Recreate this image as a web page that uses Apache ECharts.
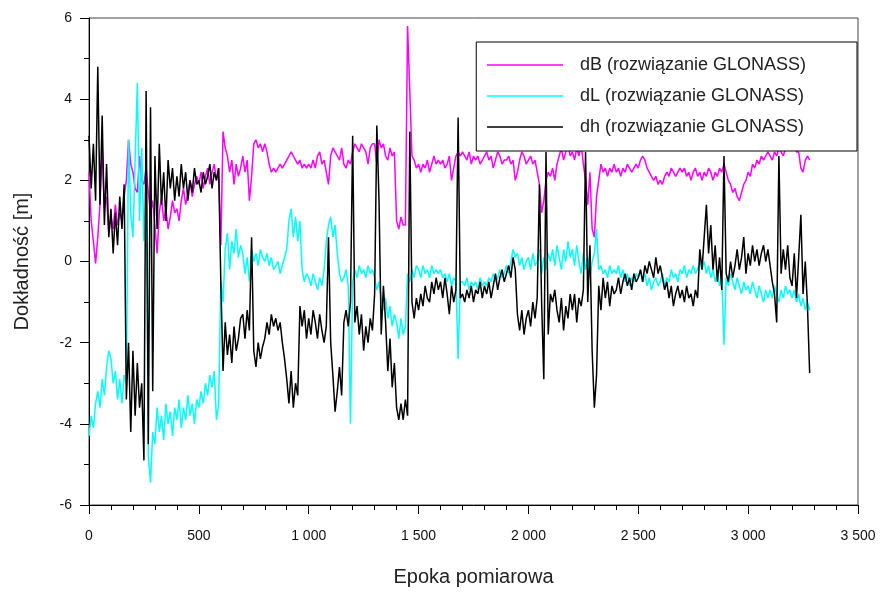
<!DOCTYPE html>
<html>
<head>
<meta charset="utf-8">
<title>Dokładność GLONASS</title>
<script src="https://cdn.jsdelivr.net/npm/echarts@6/dist/echarts.min.js"></script>
<style>
  html, body { margin: 0; padding: 0; background: #fff; }
  #main { width: 887px; height: 592px; }
</style>
</head>
<body>
<div id="main"></div>
<script>
// epoch spacing of the read-off samples
const STEP = 10

// dB (rozwiązanie GLONASS), one row = 100 epochs
const dB = [
  2.2, 1.0, 0.5, -0.05, 0.6, 1.4, 2.8, 1.3, 1.6, 0.7,
  1.1, 0.8, 1.4, 0.9, 1.2, 1.0, 1.6, 2.0, 3.0, 2.4,
  2.2, 1.8, 1.7, 2.6, 2.0, 1.9, 2.3, 1.7, 1.2, 1.5,
  0.9, 0.2, 1.2, 1.6, 1.0, 1.3, 0.8, 1.1, 1.5, 1.2,
  1.3, 1.0, 1.5, 1.8, 1.4, 1.7, 2.0, 1.6, 1.9, 2.1,
  1.9, 2.2, 1.8, 2.1, 2.3, 1.9, 2.2, 2.4, 2.0, 2.3,
  0.4, 3.2, 2.8, 2.6, 2.2, 2.5, 1.9, 2.4, 2.1, 2.3,
  2.6, 2.2, 2.5, 1.5, 2.1, 2.9, 3.0, 2.8, 2.9, 2.7,
  2.9, 2.7, 2.4, 2.2, 2.3, 2.2, 2.3, 2.4, 2.3, 2.4,
  2.5, 2.6, 2.7, 2.6, 2.5, 2.4, 2.5, 2.3, 2.4, 2.3,
  2.4, 2.3, 2.5, 2.3, 2.6, 2.7, 2.4, 2.5, 2.2, 1.9,
  2.6, 2.8, 2.7, 2.6, 2.5, 2.8, 2.4, 2.3, 2.5, 2.4,
  2.7, 2.9, 2.8, 2.7, 2.9, 2.8, 2.7, 2.4, 2.8, 2.9,
  2.9, 2.4, 3.0, 2.8, 2.9, 2.6, 2.5, 2.8, 2.6, 2.7,
  1.0, 0.8, 1.1, 0.9, 0.9, 5.8, 4.2, 2.6, 2.5, 2.3,
  2.4, 2.2, 2.4, 2.3, 2.5, 2.2, 2.4, 2.6, 2.4, 2.5,
  2.4, 2.5, 2.3, 2.4, 2.6, 2.0, 2.3, 2.6, 2.7, 2.6,
  2.7, 2.6, 2.5, 2.7, 2.4, 2.6, 2.5, 2.6, 2.4, 2.5,
  2.6, 2.7, 2.5, 2.6, 2.3, 2.5, 2.7, 2.6, 2.4, 2.5,
  2.5, 2.6, 2.4, 2.5, 2.0, 2.2, 2.5, 2.7, 2.6, 2.4,
  2.5, 2.6, 2.4, 2.5, 2.2, 1.9, 1.2, 1.5, 2.0, 2.2,
  2.1, 2.3, 2.0, 2.4, 2.6, 2.8, 2.5, 2.7, 2.9, 2.6,
  2.7, 2.5, 2.8, 2.6, 2.9, 2.4, 2.0, 1.4, 2.2, 0.8,
  0.6, 1.6, 2.0, 2.4, 2.2, 2.3, 2.1, 2.3, 2.2, 2.4,
  2.2, 2.3, 2.1, 2.3, 2.2, 2.4, 2.3, 2.2, 2.3, 2.4,
  2.3, 2.5, 2.6, 2.5, 2.3, 2.2, 2.1, 2.0, 2.1, 1.9,
  2.0, 1.9, 2.1, 2.2, 2.1, 2.3, 2.2, 2.1, 2.2, 2.3,
  2.2, 2.3, 2.1, 2.2, 2.0, 2.2, 2.3, 2.1, 2.2, 2.0,
  2.2, 2.1, 2.3, 2.2, 2.0, 2.2, 2.1, 2.3, 2.2, 2.4,
  2.2, 2.0, 1.9, 1.7, 1.8, 1.6, 1.5, 1.7, 1.9, 2.0,
  2.2, 2.1, 2.4, 2.3, 2.5, 2.4, 2.6, 2.5, 2.6, 2.7,
  2.6, 2.5, 2.7, 2.6, 2.8, 2.7, 2.6, 2.8, 2.9, 2.8,
  2.8, 2.9, 2.7, 2.7, 2.3, 2.2, 2.5, 2.6, 2.5
]

// dL (rozwiązanie GLONASS)
const dL = [
  -4.3, -3.8, -4.1, -3.5, -3.2, -3.6, -2.9, -3.3, -2.6, -2.2,
  -2.4, -3.0, -2.7, -3.4, -2.9, -3.5, -2.8, -3.0, 3.0, 1.2,
  0.6, 2.5, 4.4, 1.0, 2.8, 0.5, 2.0, -4.8, -5.45, -4.2,
  -4.5, -3.6, -4.2, -3.8, -4.4, -3.5, -4.0, -3.7, -4.3, -3.6,
  -3.9, -3.4, -4.1, -3.6, -3.9, -3.3, -3.8, -3.5, -4.0, -3.4,
  -3.6, -3.2, -3.5, -3.0, -3.3, -2.8, -3.1, -2.7, -3.9, -3.5,
  -0.5, -1.0, 0.3, 0.7, -0.2, 0.5, 0.2, 0.8, 0.1, 0.4,
  0.2, -0.3, 0.1, -0.5, 0.3, 0.0, 0.2, -0.1, 0.3, 0.1,
  0.0, 0.2, -0.1, 0.1, -0.2, -0.1, 0.0, -0.3, -0.1, 0.1,
  0.3, 1.0, 1.3, 0.6, 1.1, 0.5, 1.0, -0.2, -0.5, -0.3,
  -0.4, -0.6, -0.3, -0.5, -0.7, -0.4, -0.6, -0.2, 0.5, 0.9,
  1.1, 0.6, 0.9, 0.2, -0.3, -0.5, -0.4, -0.2, -0.6, -4.0,
  -0.5, -0.2, -0.4, -0.1, -0.3, -0.2, -0.4, -0.1, -0.3, -0.2,
  -0.4, -0.7, -0.5, -0.9, -1.2, -0.9, -1.4, -1.1, -1.6, -1.3,
  -1.5, -1.9, -1.4, -1.8, -1.6, -0.3, -0.5, -0.2, -0.4, -0.1,
  -0.2, -0.4, -0.1, -0.3, -0.2, -0.4, -0.1, -0.3, -0.2, -0.3,
  -0.2, -0.4, -0.3, -0.5, -0.3, -0.6, -0.4, -0.5, -2.4, -0.5,
  -0.5, -0.6, -0.4, -0.7, -0.5, -0.6, -0.5, -0.7, -0.4, -0.6,
  -0.5, -0.6, -0.4, -0.5, -0.3, -0.5, -0.4, -0.2, -0.4, -0.3,
  -0.1, -0.3, 0.0, 0.3, 0.1, 0.2, -0.1, 0.1, -0.2, 0.0,
  0.1, -0.2, 0.2, -0.1, 0.0, 0.3, -0.3, 0.1, -0.2, 0.2,
  0.0, 0.3, -0.1, 0.4, 0.1, -0.2, 0.3, 0.0, 0.5, 0.1,
  0.3, -0.1, 0.4, 0.0, -0.3, 0.2, -0.2, 0.1, -0.4, 0.0,
  0.2, 0.8, -0.2, -0.1, -0.3, -0.2, -0.4, -0.1, -0.3, -0.2,
  -0.3, -0.1, -0.4, -0.2, -0.5, -0.3, -0.6, -0.4, -0.5, -0.3,
  -0.4, -0.2, -0.5, -0.3, -0.6, -0.4, -0.7, -0.5, -0.4, -0.6,
  -0.5, -0.3, -0.6, -0.4, -0.5, -0.2, -0.4, -0.3, -0.5, -0.2,
  -0.3, -0.1, -0.4, -0.2, -0.3, -0.1, -0.3, -0.2, 0.0, -0.2,
  0.0, -0.3, -0.1, -0.4, -0.2, -0.5, -0.3, -0.6, -0.4, -2.05,
  -0.4, -0.6, -0.3, -0.5, -0.7, -0.4, -0.6, -0.8, -0.5, -0.7,
  -0.6, -0.8, -0.5, -0.7, -0.9, -0.6, -0.8, -1.0, -0.7, -0.9,
  -0.7, -0.9, -0.6, -0.8, -1.0, -0.7, -0.9, -0.6, -0.8, -0.7,
  -0.9, -0.7, -1.0, -0.8, -1.1, -0.9, -1.2, -1.0, -1.2
]

// dh (rozwiązanie GLONASS)
const dh = [
  3.1, 1.8, 2.9, 1.5, 4.8, 1.4, 3.6, 0.9, 2.4, 0.6,
  1.3, 0.2, 1.2, 0.4, 1.6, 0.8, 1.9, -3.4, -2.0, -4.2,
  -2.2, -3.8, -2.5, -3.6, -3.0, -4.9, 4.2, -4.5, 3.8, -3.2,
  2.6, 0.8, 2.9, 1.4, 2.2, 1.0, 2.5, 1.8, 2.3, 1.5,
  2.1, 1.6, 2.4, 1.8, 2.2, 1.5, 2.0, 1.7, 2.3, 1.9,
  2.0, 1.7, 2.2, 1.9, 2.1, 2.4, 1.8, 2.2, 2.0, 2.3,
  -0.5, -2.7, -1.5, -2.3, -1.8, -2.5, -1.6, -2.2, -1.9, -1.4,
  -1.3, -1.9, -1.2, -1.7, 0.6, -2.2, -2.6, -2.0, -2.4, -2.1,
  -1.9, -1.5, -1.8, -1.3, -1.6, -1.4, -1.7, -1.5, -2.0, -2.4,
  -2.9, -3.5, -2.7, -3.6, -3.0, -3.3, -1.1, -1.6, -1.2, -1.9,
  -1.4, -1.8, -1.2, -1.5, -1.9, -1.3, -1.7, -2.0, -1.6, 0.6,
  -2.0, -2.8, -3.7, -3.2, -2.6, -3.3, -1.5, -1.2, -1.6, -1.0,
  3.1, -1.5, -1.1, -1.8, -1.3, -2.2, -1.6, -2.0, -1.4, -1.7,
  -0.8, 3.35, 1.5, -1.8, -0.6, -1.5, -2.7, -1.9, -3.1, -2.5,
  -3.6, -3.9, -3.5, -3.9, -3.4, -3.8, 3.2, -1.0, -1.4, -0.9,
  -1.2, -0.8, -1.1, -0.6, -0.9, -1.0, -0.5, -0.8, -0.4, -0.7,
  -0.5, -0.9, -0.4, -0.8, -1.3, -0.6, -1.0, -0.7, 3.55, -0.9,
  -0.8, -1.0, -0.7, -0.9, -0.6, -1.0, -0.7, -0.8, -0.5, -0.9,
  -0.6, -0.8, -0.5, -0.9, -0.6, -0.3, -0.7, -0.4, -0.2, -0.5,
  -0.3, -0.1, -0.4, 0.1, -0.2, -1.3, -1.7, -1.2, -1.8, -1.4,
  -1.2, -1.6, -1.0, -1.4, -0.9, 1.9, -1.0, -2.9, 2.7, -1.8,
  -0.8, -1.0, -0.7, -1.2, -1.5, -0.9, -1.7, -1.1, -1.4, -0.8,
  -1.2, -0.8, -1.5, -0.9, -1.1, -0.7, 2.7, -1.0, 0.4, -2.2,
  -3.6, -2.8, -0.6, -1.2, -0.4, -0.9, -0.5, -1.1, -0.6, -0.8,
  -0.7, -0.4, -0.8, -0.5, -0.3, -0.6, -0.4, -0.7, -0.3, -0.5,
  -0.4, -0.2, -0.5, -0.1, -0.3, 0.0, -0.2, -0.4, 0.1, -0.3,
  -0.1, -0.4, -0.7, -0.5, -0.9, -0.6, -1.1, -0.8, -0.6, -0.9,
  -0.7, -1.0, -0.6, -0.9, -0.8, -1.1, -0.7, -0.9, 0.3, -0.2,
  0.6, 1.4, 0.2, 0.9, -0.2, 0.4, -0.5, 0.1, -0.7, 2.6,
  -0.3, -0.5, 0.0, -0.4, -0.1, 0.3, -0.2, 0.1, 0.6, -0.3,
  0.2, -0.1, 0.4, 0.0, 0.3, -0.1, 0.2, 0.4, 0.0, 0.3,
  -0.1, -0.5, -0.8, -1.5, 2.6, -0.3, 0.3, -0.2, 0.4, -0.4,
  -0.6, 0.2, -0.9, 0.1, 1.15, -0.8, 0.0, -1.1, -2.75
]

const seriesNames = [
  'dB (rozwiązanie GLONASS)',
  'dL (rozwiązanie GLONASS)',
  'dh (rozwiązanie GLONASS)'
]
const seriesColors = ['#ff00ff', '#00ffff', '#000000']

function toPoints(values) {
  return values.map((v, i) => [i * STEP, v])
}

function spaced(v) {
  return String(v).replace(/\B(?=(\d{3})+(?!\d))/g, ' ')
}

const font = 'Liberation Sans, Arial, sans-serif'
const chart = echarts.init(document.getElementById('main'))

chart.setOption({
  animation: false,
  backgroundColor: '#fff',
  grid: {
    left: 89, right: 29, top: 18, bottom: 87,
    show: true,
    borderColor: '#444',
    borderWidth: 1
  },
  legend: {
    orient: 'vertical',
    right: 30,
    top: 42,
    z: 20,
    backgroundColor: '#fff',
    borderColor: '#000',
    borderWidth: 1,
    padding: [14, 14, 15, 10],
    itemWidth: 76,
    itemHeight: 14,
    itemGap: 13,
    itemStyle: { opacity: 0 },
    lineStyle: { width: 1.5 },
    textStyle: {
      fontFamily: font,
      fontSize: 18,
      lineHeight: 18,
      color: '#222',
      width: 263,
      padding: [0, 0, 0, 12]
    },
    data: seriesNames
  },
  xAxis: {
    type: 'value',
    min: 0,
    max: 3500,
    interval: 500,
    name: 'Epoka pomiarowa',
    nameLocation: 'middle',
    nameGap: 62,
    nameTextStyle: { fontFamily: font, fontSize: 20, color: '#222' },
    axisLine: { onZero: false, lineStyle: { color: '#000', width: 1 } },
    axisTick: { length: 9, lineStyle: { color: '#000' } },
    minorTick: { show: true, splitNumber: 5, length: 5, lineStyle: { color: '#000' } },
    splitLine: { show: false },
    axisLabel: {
      margin: 24,
      fontFamily: font,
      fontSize: 14,
      color: '#111',
      formatter: spaced
    }
  },
  yAxis: {
    type: 'value',
    min: -6,
    max: 6,
    interval: 2,
    name: 'Dokładność [m]',
    nameLocation: 'middle',
    nameGap: 57,
    nameTextStyle: { fontFamily: font, fontSize: 20, color: '#222' },
    axisLine: { show: true, onZero: false, lineStyle: { color: '#000', width: 1 } },
    axisTick: { show: true, length: 9, lineStyle: { color: '#000' } },
    minorTick: { show: true, splitNumber: 2, length: 5, lineStyle: { color: '#000' } },
    splitLine: { show: false },
    axisLabel: {
      margin: 17,
      fontFamily: font,
      fontSize: 14,
      color: '#111'
    }
  },
  series: [dB, dL, dh].map((vals, k) => ({
    name: seriesNames[k],
    type: 'line',
    symbol: 'none',
    color: seriesColors[k],
    lineStyle: { color: seriesColors[k], width: 1.5 },
    data: toPoints(vals)
  }))
})
</script>
</body>
</html>
